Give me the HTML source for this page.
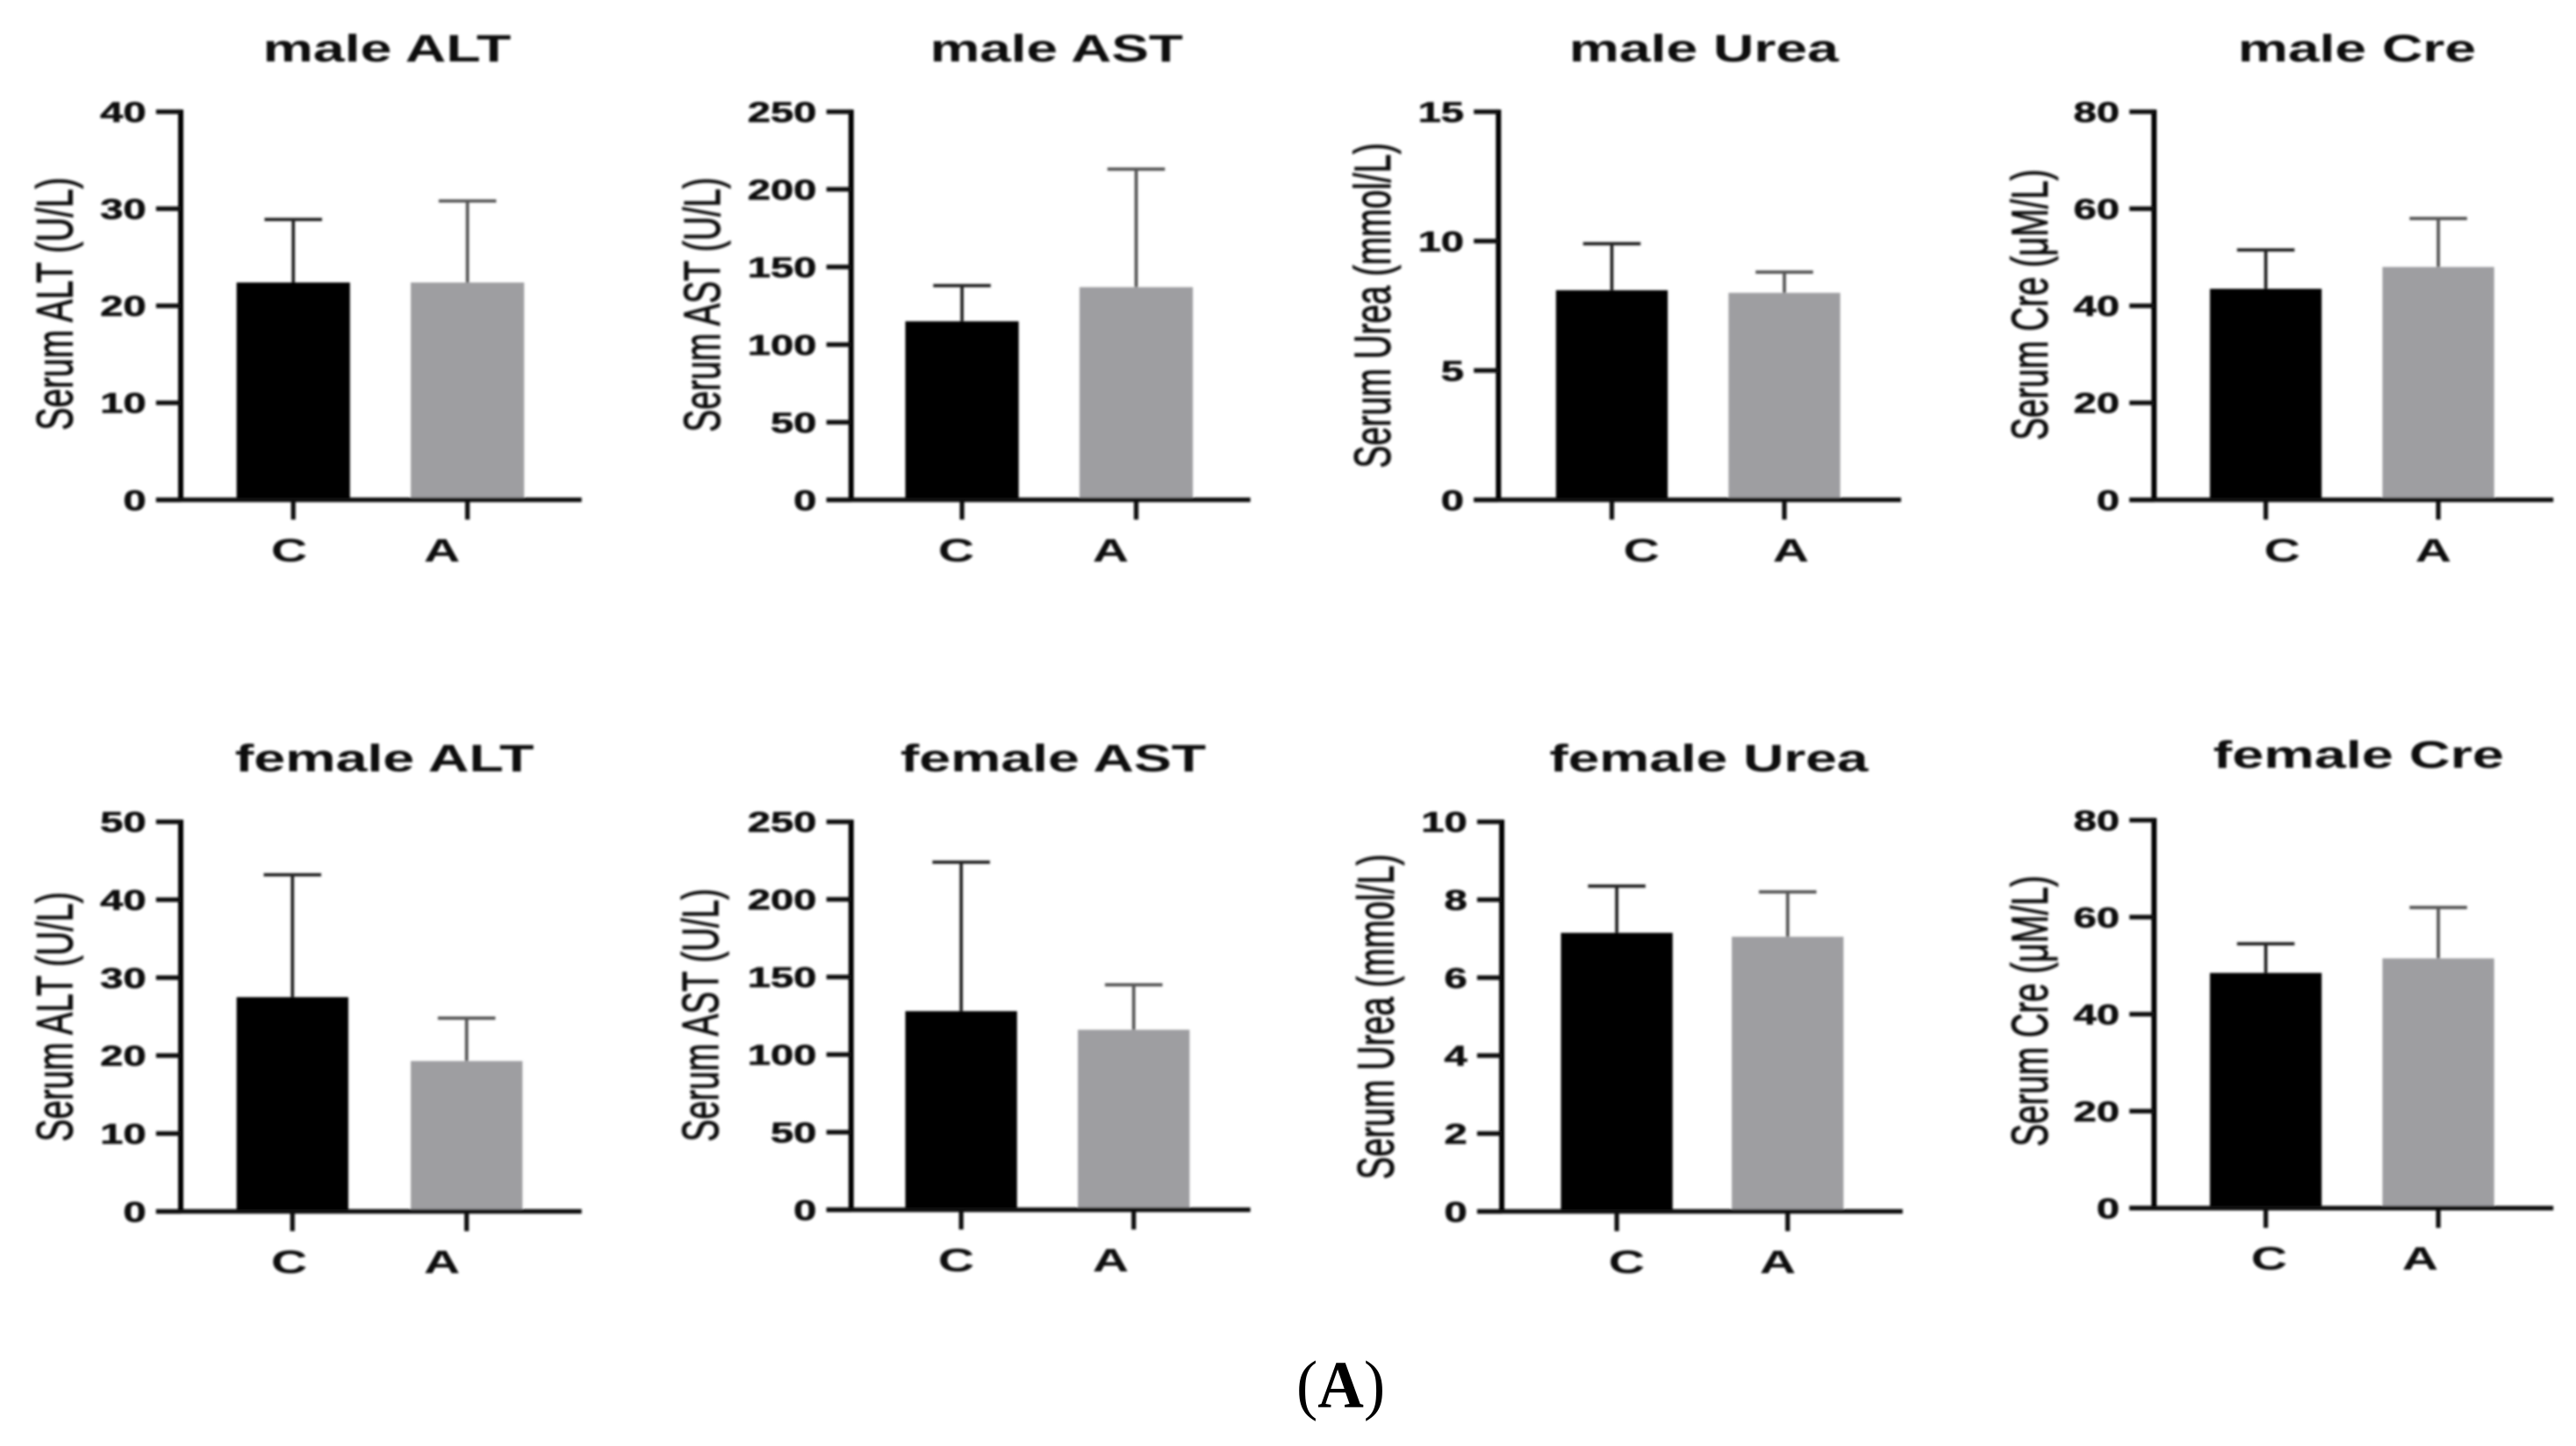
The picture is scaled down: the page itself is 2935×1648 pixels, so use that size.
<!DOCTYPE html>
<html lang="en">
<head>
<meta charset="utf-8">
<title>Serum ALT, AST, Urea and Cre by sex</title>
<style>
html,body{margin:0;padding:0;background:#fff;width:2935px;height:1648px;overflow:hidden}
svg{display:block}
text{font-family:"Liberation Sans",sans-serif;fill:#111}
</style>
</head>
<body>
<svg id="figure" xmlns="http://www.w3.org/2000/svg" width="2935" height="1648" viewBox="0 0 1567.8 880.3">
  <defs><filter id="soft" x="-2%" y="-2%" width="104%" height="104%"><feGaussianBlur stdDeviation="0.65"/></filter></defs>
  <g id="plots" filter="url(#soft)"></g>
  <text x="816" y="856.5" text-anchor="middle" textLength="54" lengthAdjust="spacingAndGlyphs" style="font-family:'Liberation Serif',serif;font-size:41px;fill:#000">(<tspan font-weight="bold">A</tspan>)</text>
</svg>
<script>
// Chart data
const categories = ['C', 'A'];
const titles = ['male ALT', 'male AST', 'male Urea', 'male Cre', 'female ALT', 'female AST', 'female Urea', 'female Cre'];
const yLabels = ['Serum ALT (U/L)', 'Serum AST (U/L)', 'Serum Urea (mmol/L)', 'Serum Cre (μM/L)', 'Serum ALT (U/L)', 'Serum AST (U/L)', 'Serum Urea (mmol/L)', 'Serum Cre (μM/L)'];
const yTickLabels = [
  ['0', '10', '20', '30', '40'],
  ['0', '50', '100', '150', '200', '250'],
  ['0', '5', '10', '15'],
  ['0', '20', '40', '60', '80'],
  ['0', '10', '20', '30', '40', '50'],
  ['0', '50', '100', '150', '200', '250'],
  ['0', '2', '4', '6', '8', '10'],
  ['0', '20', '40', '60', '80']
];
const controlMeans = [22.4, 115, 8.1, 43.5, 27.5, 128, 7.15, 48.5];
const agentMeans = [22.4, 137, 8.0, 48, 19.3, 116, 7.05, 51.5];
const controlErrorTops = [28.9, 138, 9.9, 51.5, 43.2, 224, 8.35, 54.5];
const agentErrorTops = [30.8, 213, 8.8, 58, 24.8, 145, 8.2, 62];

// Layout (drawing geometry, separate from the data)
const layout = [
  {ax:110, right:354,  top:68,  base:304.3, c0:144, a0:250, bw:69, lc:176,  la:269,  tl:160,  tr:311,  ty:37.4,  ylx:44,  yl0:262, yl1:108},
  {ax:518, right:761,  top:68,  base:304.3, c0:551, a0:657, bw:69, lc:582,  la:676,  tl:566,  tr:720,  ty:37.4,  ylx:438, yl0:263, yl1:108},
  {ax:912, right:1157, top:68,  base:304.3, c0:947, a0:1052,bw:68, lc:999,  la:1090, tl:955,  tr:1119, ty:37.4,  ylx:846, yl0:285, yl1:87},
  {ax:1311,right:1554, top:68,  base:304.3, c0:1345,a0:1450,bw:68, lc:1389, la:1481, tl:1362, tr:1507, ty:37.4,  ylx:1246,yl0:268, yl1:103},
  {ax:110, right:354,  top:500.3, base:737.5, c0:144, a0:250, bw:68, lc:176,  la:269,  tl:143,  tr:325,  ty:469.5, ylx:44,  yl0:695, yl1:543},
  {ax:518, right:761,  top:500.3, base:736.5, c0:551, a0:656, bw:68, lc:582,  la:676,  tl:548,  tr:734,  ty:469.5, ylx:437, yl0:695, yl1:541},
  {ax:914, right:1158, top:500.3, base:737.5, c0:950, a0:1054,bw:68, lc:990,  la:1082, tl:943,  tr:1137, ty:469.5, ylx:848, yl0:718, yl1:520},
  {ax:1311,right:1554, top:499.3, base:735.5, c0:1345,a0:1450,bw:68, lc:1381, la:1473, tl:1347, tr:1524, ty:467.5, ylx:1246,yl0:698, yl1:533}
];
const NS = 'http://www.w3.org/2000/svg';

function make(parent, tag, props, content) {
  const node = document.createElementNS(NS, tag);
  for (const key in props) node.setAttribute(key, props[key]);
  if (content !== undefined) node.textContent = content;
  parent.appendChild(node);
  return node;
}
function yScale(i, value) {
  const labels = yTickLabels[i];
  const max = Number(labels[labels.length - 1]);
  const g = layout[i];
  return g.base - (value / max) * (g.base - g.top);
}
function xBarLeft(i, c) {
  return c === 0 ? layout[i].c0 : layout[i].a0;
}
function xBarCenter(i, c) {
  return xBarLeft(i, c) + layout[i].bw / 2;
}

const root = document.getElementById('plots');
titles.forEach(function (title, i) {
  const g = layout[i];
  const panel = make(root, 'g', {});
  
  

  const titleEl = make(panel, 'text', {x:(g.tl + g.tr) / 2, y:g.ty, 'text-anchor':'middle', textLength:g.tr - g.tl, lengthAdjust:'spacingAndGlyphs', style:'font-size:23.5px;font-weight:bold'}, title);
  
  

  const yTitle = make(panel, 'text', {transform:'translate(' + g.ylx + ' ' + (g.yl0 + g.yl1) / 2 + ') rotate(-90)', 'text-anchor':'middle', textLength:g.yl0 - g.yl1, lengthAdjust:'spacingAndGlyphs', style:'font-size:31px;stroke:#111;stroke-width:0.5'}, yLabels[i]);
  
  

  const series = [
    {mean:controlMeans[i], top:controlErrorTops[i], fill:'#000', err:'#222'},
    {mean:agentMeans[i], top:agentErrorTops[i], fill:'#9e9ea1', err:'#555'}
  ];
  series.forEach(function (s, c) {
    const cx = xBarCenter(i, c);
    const stem = make(panel, 'line', {x1:cx, x2:cx, y1:yScale(i, s.mean), y2:yScale(i, s.top), stroke:s.err, 'stroke-width':2});
    
    
    const cap = make(panel, 'line', {x1:cx - 17.5, x2:cx + 17.5, y1:yScale(i, s.top), y2:yScale(i, s.top), stroke:s.err, 'stroke-width':2});
    
    
    const bar = make(panel, 'rect', {x:xBarLeft(i, c), y:yScale(i, s.mean), width:g.bw, height:g.base - yScale(i, s.mean), fill:s.fill});
    
    
  });

  const yAxis = make(panel, 'line', {x1:g.ax, x2:g.ax, y1:g.top - 1.3, y2:g.base, stroke:'#000', 'stroke-width':3.2});
  
  
  const xAxis = make(panel, 'line', {x1:g.ax - 15, x2:g.right, y1:g.base, y2:g.base, stroke:'#111', 'stroke-width':2.8});
  
  

  yTickLabels[i].forEach(function (label) {
    const y = yScale(i, Number(label));
    const tick = make(panel, 'line', {x1:g.ax - 15, x2:g.ax, y1:y, y2:y, stroke:'#111', 'stroke-width':2.8});
    
    
    const text = make(panel, 'text', {x:g.ax - 21, y:y + 6.2, 'text-anchor':'end', textLength:label.length * 14, lengthAdjust:'spacingAndGlyphs', style:'font-size:17.5px;font-weight:bold;stroke:#111;stroke-width:0.3'}, label);
    
    
  });

  categories.forEach(function (cat, c) {
    const cx = xBarCenter(i, c);
    const tick = make(panel, 'line', {x1:cx, x2:cx, y1:g.base, y2:g.base + 12, stroke:'#111', 'stroke-width':2.8});
    
    
    const text = make(panel, 'text', {x:c === 0 ? g.lc : g.la, y:g.base + 37.5, 'text-anchor':'middle', textLength:22, lengthAdjust:'spacingAndGlyphs', style:'font-size:20px;font-weight:bold'}, cat);
    
    
  });
});
</script>
</body>
</html>
